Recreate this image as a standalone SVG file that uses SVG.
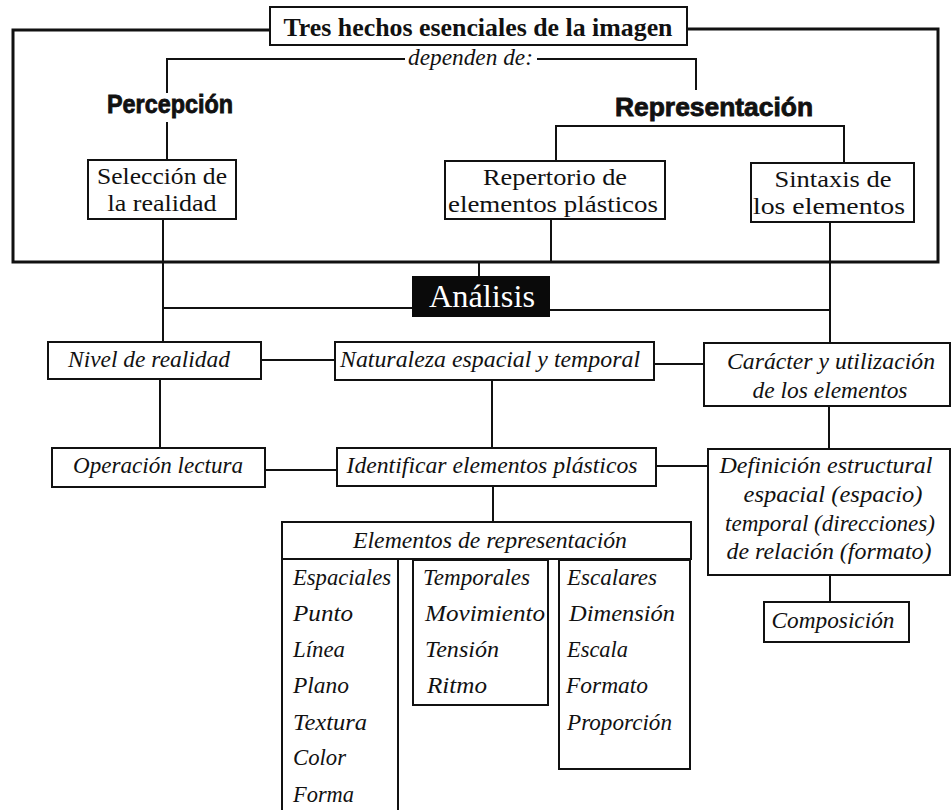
<svg xmlns="http://www.w3.org/2000/svg" width="952" height="810" viewBox="0 0 952 810">
<style>
.bx{fill:#fff;stroke:#111;stroke-width:2}
.ln{fill:none;stroke:#111;stroke-width:2}
.fr{fill:none;stroke:#111;stroke-width:3}
.t{font-family:"Liberation Serif","DejaVu Serif",serif;font-size:23px;fill:#111;text-anchor:middle}
.i{font-family:"Liberation Serif","DejaVu Serif",serif;font-size:24px;font-style:italic;fill:#111;text-anchor:middle}
.li{font-family:"Liberation Serif","DejaVu Serif",serif;font-size:24px;font-style:italic;fill:#111}
.b{font-family:"Liberation Serif","DejaVu Serif",serif;font-size:25px;font-weight:bold;fill:#111;text-anchor:middle}
.s{font-family:"Liberation Sans",Arial,sans-serif;font-size:25px;font-weight:bold;fill:#111;stroke:#111;stroke-width:0.8;text-anchor:middle}
</style>
<rect width="952" height="810" fill="#fff"/>
<g id="connectors">
<path class="fr" d="M270,30 H13 V262 H938 V29 H687"/>
<path class="ln" d="M167,93 V59 H405 M537,59 H696 V90"/>
<path class="ln" d="M167,122 V160"/>
<path class="ln" d="M556,161 V126 H844 V163"/>
<path class="ln" d="M163,219 V342"/>
<path class="ln" d="M163,308 H412"/>
<path class="ln" d="M551,219 V262"/>
<path class="ln" d="M479,262 V276"/>
<path class="ln" d="M830,222 V343"/>
<path class="ln" d="M550,310 H830"/>
<path class="ln" d="M261,360 H335"/>
<path class="ln" d="M654,364 H704"/>
<path class="ln" d="M160,379 V448"/>
<path class="ln" d="M492,380 V448"/>
<path class="ln" d="M829,406 V449"/>
<path class="ln" d="M265,470 H337"/>
<path class="ln" d="M656,466 H708"/>
<path class="ln" d="M493,486 V522"/>
<path class="ln" d="M830,575 V602"/>
</g>
<g id="title">
<rect class="bx" x="270" y="7" width="417" height="38"/>
<text class="b" x="478" y="36" textLength="389" lengthAdjust="spacingAndGlyphs">Tres hechos esenciales de la imagen</text>
</g>
<g id="dependen">
<text class="li" x="408" y="65" textLength="125" lengthAdjust="spacingAndGlyphs">dependen de:</text>
</g>
<g id="percepcion">
<text class="s" x="170" y="113" textLength="126" lengthAdjust="spacingAndGlyphs">Percepción</text>
</g>
<g id="representacion">
<text class="s" x="714" y="116" textLength="198" lengthAdjust="spacingAndGlyphs">Representación</text>
</g>
<g id="seleccion">
<rect class="bx" x="88" y="160" width="148" height="59"/>
<text class="t" x="162" y="184" textLength="130" lengthAdjust="spacingAndGlyphs">Selección de</text>
<text class="t" x="162" y="211" textLength="109" lengthAdjust="spacingAndGlyphs">la realidad</text>
</g>
<g id="repertorio">
<rect class="bx" x="445" y="161" width="220" height="58"/>
<text class="t" x="555" y="185" textLength="144" lengthAdjust="spacingAndGlyphs">Repertorio de</text>
<text class="t" x="553" y="212" textLength="210" lengthAdjust="spacingAndGlyphs">elementos plásticos</text>
</g>
<g id="sintaxis">
<rect class="bx" x="751" y="163" width="163" height="59"/>
<text class="t" x="833" y="187" textLength="117" lengthAdjust="spacingAndGlyphs">Sintaxis de</text>
<text class="t" x="829" y="214" textLength="152" lengthAdjust="spacingAndGlyphs">los elementos</text>
</g>
<g id="analisis">
<rect x="412" y="276" width="138" height="41" fill="#0a0a0a"/>
<text x="429" y="307" font-family="Liberation Serif, DejaVu Serif, serif" font-size="31" fill="#fff" textLength="106" lengthAdjust="spacingAndGlyphs">Análisis</text>
</g>
<g id="nivel">
<rect class="bx" x="48" y="342" width="213" height="37"/>
<text class="i" x="149" y="367" textLength="162" lengthAdjust="spacingAndGlyphs">Nivel de realidad</text>
</g>
<g id="naturaleza">
<rect class="bx" x="335" y="342" width="319" height="38"/>
<text class="i" x="490" y="367" textLength="300" lengthAdjust="spacingAndGlyphs">Naturaleza espacial y temporal</text>
</g>
<g id="caracter">
<rect class="bx" x="704" y="343" width="246" height="63"/>
<text class="i" x="831" y="369" textLength="208" lengthAdjust="spacingAndGlyphs">Carácter y utilización</text>
<text class="i" x="830" y="398" textLength="155" lengthAdjust="spacingAndGlyphs">de los elementos</text>
</g>
<g id="operacion">
<rect class="bx" x="52" y="448" width="213" height="39"/>
<text class="i" x="158" y="473" textLength="170" lengthAdjust="spacingAndGlyphs">Operación lectura</text>
</g>
<g id="identificar">
<rect class="bx" x="337" y="448" width="319" height="38"/>
<text class="i" x="492" y="473" textLength="291" lengthAdjust="spacingAndGlyphs">Identificar elementos plásticos</text>
</g>
<g id="definicion">
<rect class="bx" x="708" y="449" width="242" height="126"/>
<text class="i" x="826" y="473" textLength="213" lengthAdjust="spacingAndGlyphs">Definición estructural</text>
<text class="i" x="833" y="502" textLength="179" lengthAdjust="spacingAndGlyphs">espacial (espacio)</text>
<text class="i" x="830" y="531" textLength="210" lengthAdjust="spacingAndGlyphs">temporal (direcciones)</text>
<text class="i" x="829" y="559" textLength="205" lengthAdjust="spacingAndGlyphs">de relación (formato)</text>
</g>
<g id="composicion">
<rect class="bx" x="764" y="602" width="145" height="40"/>
<text class="i" x="833" y="628" textLength="123" lengthAdjust="spacingAndGlyphs">Composición</text>
</g>
<g id="elementos">
<rect class="bx" x="282" y="522" width="409" height="37"/>
<text class="i" x="490" y="548" textLength="274" lengthAdjust="spacingAndGlyphs">Elementos de representación</text>
</g>
<g id="espaciales">
<rect class="bx" x="282" y="559" width="116" height="270"/>
<text class="li" x="293" y="585" textLength="98" lengthAdjust="spacingAndGlyphs">Espaciales</text>
<text class="li" x="293" y="621" textLength="60" lengthAdjust="spacingAndGlyphs">Punto</text>
<text class="li" x="293" y="657" textLength="52" lengthAdjust="spacingAndGlyphs">Línea</text>
<text class="li" x="293" y="693" textLength="56" lengthAdjust="spacingAndGlyphs">Plano</text>
<text class="li" x="293" y="730" textLength="74" lengthAdjust="spacingAndGlyphs">Textura</text>
<text class="li" x="293" y="765" textLength="53" lengthAdjust="spacingAndGlyphs">Color</text>
<text class="li" x="293" y="802" textLength="61" lengthAdjust="spacingAndGlyphs">Forma</text>
</g>
<g id="temporales">
<rect class="bx" x="413" y="560" width="135" height="145"/>
<text class="li" x="423" y="585" textLength="107" lengthAdjust="spacingAndGlyphs">Temporales</text>
<text class="li" x="425" y="621" textLength="120" lengthAdjust="spacingAndGlyphs">Movimiento</text>
<text class="li" x="425" y="657" textLength="74" lengthAdjust="spacingAndGlyphs">Tensión</text>
<text class="li" x="427" y="693" textLength="60" lengthAdjust="spacingAndGlyphs">Ritmo</text>
</g>
<g id="escalares">
<rect class="bx" x="559" y="560" width="131" height="209"/>
<text class="li" x="567" y="585" textLength="90" lengthAdjust="spacingAndGlyphs">Escalares</text>
<text class="li" x="569" y="621" textLength="106" lengthAdjust="spacingAndGlyphs">Dimensión</text>
<text class="li" x="567" y="657" textLength="61" lengthAdjust="spacingAndGlyphs">Escala</text>
<text class="li" x="566" y="693" textLength="82" lengthAdjust="spacingAndGlyphs">Formato</text>
<text class="li" x="567" y="730" textLength="105" lengthAdjust="spacingAndGlyphs">Proporción</text>
</g>
</svg>
